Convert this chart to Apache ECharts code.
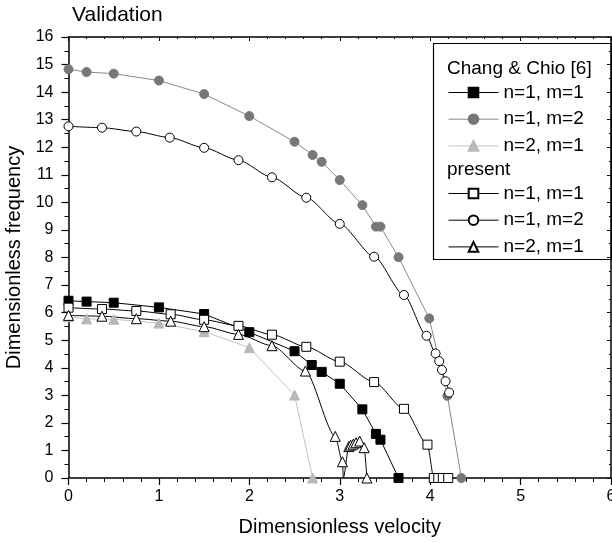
<!DOCTYPE html>
<html>
<head>
<meta charset="utf-8">
<script src="https://cdn.jsdelivr.net/npm/echarts@6/dist/echarts.min.js"></script>
<style>html,body{margin:0;padding:0;background:#fff}#c{width:612px;height:543px}</style>
</head>
<body>
<div id="c"></div>
<script>
// Chang & Chio [6]
const changN1M1 = [[0,6.43],[0.2,6.40],[0.5,6.36],[1.0,6.19],[1.5,5.95],[2.0,5.29],[2.5,4.60],[2.69,4.10],[2.8,3.85],[3.0,3.42],[3.25,2.49],[3.4,1.60],[3.45,1.39],[3.65,0]];
const changN1M2 = [[0,14.83],[0.2,14.73],[0.5,14.67],[1.0,14.42],[1.5,13.93],[2.0,13.13],[2.5,12.2],[2.7,11.72],[2.8,11.47],[3.0,10.81],[3.25,9.9],[3.4,9.12],[3.45,9.12],[3.65,8.01],[3.99,5.79],[4.19,2.98],[4.345,0]];
const changN2M1 = [[0,5.85],[0.2,5.77],[0.5,5.76],[1.0,5.62],[1.5,5.31],[2.0,4.73],[2.5,3.01],[2.7,0]];
// present
const presN1M1 = [[0,6.18],[0.37,6.13],[0.75,6.06],[1.13,5.94],[1.5,5.74],[1.88,5.52],[2.25,5.20],[2.63,4.76],[3.0,4.22],[3.38,3.48],[3.71,2.51],[3.97,1.21],[4.04,0],[4.09,0],[4.14,0],[4.2,0]];
const presN1M2 = [[0,12.76],[0.37,12.71],[0.75,12.57],[1.12,12.35],[1.5,11.98],[1.88,11.53],[2.25,10.91],[2.63,10.17],[3.0,9.22],[3.38,8.03],[3.71,6.64],[3.96,5.16],[4.06,4.52],[4.10,4.24],[4.13,3.92],[4.17,3.51],[4.21,3.10]];
const presN2M1 = [[0,5.90],[0.37,5.87],[0.75,5.78],[1.13,5.69],[1.5,5.49],[1.88,5.21],[2.25,4.80],[2.62,3.88],[2.95,1.51],[3.03,0.59],[3.04,0],[3.10,1.14],[3.12,1.19],[3.15,1.23],[3.18,1.28],[3.22,1.34],[3.27,1.10],[3.30,0]];
const presN2M1NoMarker = [10];

const seriesLabels = ['n=1, m=1','n=1, m=2','n=2, m=1'];
const titleText = 'Validation';
const xName = 'Dimensionless velocity';
const yName = 'Dimensionless frequency';
const header1 = 'Chang & Chio [6]';
const header2 = 'present';

const labelMap = {c11:seriesLabels[0], c12:seriesLabels[1], c21:seriesLabels[2], p11:seriesLabels[0], p12:seriesLabels[1], p21:seriesLabels[2]};
const FONT = 'Liberation Sans, Arial, sans-serif';

function mk(name, data, symbol, size, fill, border, lineColor, smooth){
  return {
    name, type:'line', data, symbol, symbolSize:size, smooth: smooth ? 0.25 : false,
    smoothMonotone: smooth ? 'x' : undefined,
    showAllSymbol:true, animation:false,
    lineStyle:{color:lineColor, width:1},
    itemStyle:{color:fill, borderColor:border, borderWidth:1},
    emphasis:{disabled:true}
  };
}

const chart = echarts.init(document.getElementById('c'));
const legendCommon = {
  orient:'vertical', left:448, itemWidth:50, itemHeight:12, itemGap:6.7, padding:0,
  lineStyle:{width:1},
  textStyle:{fontSize:19, fontFamily:FONT, color:'#000', lineHeight:20},
  formatter: n => labelMap[n], selectedMode:false
};
chart.setOption({
  animation:false,
  title:{text:titleText, left:72, top:5, padding:0, textStyle:{fontSize:21, fontWeight:'normal', fontFamily:FONT, color:'#000'}},
  grid:{left:68.5, right:1, top:37, bottom:65, outerBoundsMode:'none', containLabel:false},
  legend:[
    Object.assign({data:['c11','c12','c21'], top:82.5}, legendCommon),
    Object.assign({data:['p11','p12','p21'], top:183.5}, legendCommon)
  ],
  graphic:[
    {type:'rect', shape:{x:433.5, y:43.5, width:178, height:216}, style:{fill:'#fff', stroke:'#000', lineWidth:1.2}, z:-1, zlevel:0},
    {type:'text', left:447, top:59, style:{text:header1, font:'19px '+FONT, fill:'#000'}},
    {type:'text', left:447, top:160, style:{text:header2, font:'19px '+FONT, fill:'#000'}}
  ],
  xAxis:[
    {type:'value', min:0, max:6, interval:1, position:'bottom',
     name:xName, nameLocation:'middle', nameGap:39,
     nameTextStyle:{fontSize:20, fontFamily:FONT, color:'#000'},
     axisLine:{show:true, onZero:false, lineStyle:{color:'#000', width:1.5}},
     axisTick:{show:true, inside:false, length:7, lineStyle:{color:'#000', width:1.2}},
     minorTick:{show:true, splitNumber:5, length:4, lineStyle:{color:'#000', width:1}},
     axisLabel:{fontSize:16, fontFamily:FONT, color:'#000', margin:11},
     splitLine:{show:false}},
    {type:'value', min:0, max:6, interval:1, position:'top',
     axisLine:{show:true, onZero:false, lineStyle:{color:'#000', width:1.5}},
     axisTick:{show:true, inside:true, length:4, lineStyle:{color:'#000', width:1}},
     minorTick:{show:true, splitNumber:5, length:2, lineStyle:{color:'#000', width:1}},
     axisLabel:{show:false}, splitLine:{show:false}}
  ],
  yAxis:[
    {type:'value', min:0, max:16, interval:1, position:'left',
     name:yName, nameLocation:'middle', nameGap:43, nameRotate:90,
     nameTextStyle:{fontSize:20, fontFamily:FONT, color:'#000'},
     axisLine:{show:true, onZero:false, lineStyle:{color:'#000', width:1.5}},
     axisTick:{show:true, inside:false, length:7, lineStyle:{color:'#000', width:1.2}},
     minorTick:{show:true, splitNumber:2, length:4, lineStyle:{color:'#000', width:1}},
     axisLabel:{fontSize:16, fontFamily:FONT, color:'#000', margin:15},
     splitLine:{show:false}},
    {type:'value', min:0, max:16, interval:1, position:'right',
     axisLine:{show:true, onZero:false, lineStyle:{color:'#000', width:1.5}},
     axisTick:{show:true, inside:true, length:4, lineStyle:{color:'#000', width:1}},
     minorTick:{show:true, splitNumber:2, length:2, lineStyle:{color:'#000', width:1}},
     axisLabel:{show:false}, splitLine:{show:false}}
  ],
  series:[
    mk('c21', changN2M1, 'triangle', 10, '#b8b8b8', '#b8b8b8', '#c4c4c4', false),
    mk('c12', changN1M2, 'circle', 9, '#777777', '#777777', '#888888', false),
    mk('c11', changN1M1, 'rect', 9, '#000000', '#000000', '#000000', false),
    mk('p11', presN1M1, 'rect', 9, '#ffffff', '#000000', '#000000', true),
    mk('p12', presN1M2, 'circle', 9, '#ffffff', '#000000', '#000000', true),
    mk('p21', presN2M1.map((p,i)=> presN2M1NoMarker.includes(i) ? {value:p, symbol:'none'} : p), 'triangle', 10, '#ffffff', '#000000', '#000000', true)
  ]
});
</script>
</body>
</html>
